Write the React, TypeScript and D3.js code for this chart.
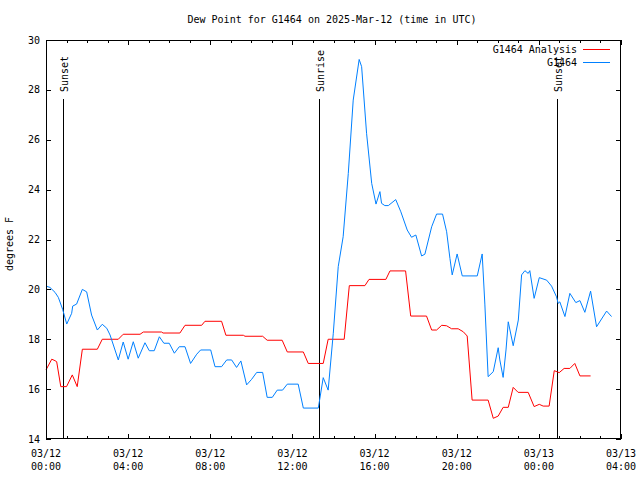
import React from "react";
import * as d3 from "d3";

const TITLE = "Dew Point for G1464 on 2025-Mar-12 (time in UTC)";
const Y_LABEL = "degrees F";
const SERIES_NAMES = ["G1464 Analysis", "G1464"];
const SERIES_COLORS = ["#ff0000", "#0080ff"];

// hours since 2025-03-12 00:00 UTC
const analysisHours = [0.0, 0.28, 0.44, 0.52, 0.72, 1.0, 1.28, 1.52, 1.77, 2.5, 2.74, 3.52, 3.76, 4.58, 4.74, 5.63, 5.7, 6.52, 6.77, 7.58, 7.74, 8.55, 8.76, 9.61, 9.69, 10.55, 10.77, 11.5, 11.75, 12.53, 12.77, 13.5, 13.74, 14.52, 14.77, 15.53, 15.73, 16.55, 16.75, 17.51, 17.76, 18.53, 18.78, 19.02, 19.27, 19.51, 19.75, 20.07, 20.32, 20.51, 20.75, 21.53, 21.78, 22.02, 22.26, 22.51, 22.75, 22.99, 23.48, 23.77, 24.02, 24.21, 24.5, 24.75, 24.99, 25.23, 25.51, 25.75, 26.0, 26.52];
const analysisValues = [16.77, 17.2, 17.14, 17.1, 16.1, 16.1, 16.57, 16.1, 17.6, 17.6, 18.0, 18.0, 18.2, 18.2, 18.29, 18.29, 18.25, 18.25, 18.56, 18.56, 18.72, 18.72, 18.16, 18.16, 18.12, 18.12, 17.96, 17.96, 17.49, 17.49, 17.03, 17.03, 18.0, 18.0, 20.15, 20.15, 20.4, 20.4, 20.74, 20.74, 18.93, 18.93, 18.37, 18.37, 18.56, 18.54, 18.42, 18.42, 18.3, 18.13, 15.56, 15.56, 14.83, 14.92, 15.27, 15.27, 16.07, 15.87, 15.87, 15.3, 15.39, 15.32, 15.32, 16.74, 16.66, 16.83, 16.83, 17.03, 16.53, 16.53];

const obsHours = [0.0, 0.19, 0.44, 0.6, 0.81, 1.01, 1.25, 1.3, 1.49, 1.77, 1.98, 2.22, 2.5, 2.74, 2.96, 3.12, 3.52, 3.76, 4.0, 4.25, 4.49, 4.82, 5.03, 5.27, 5.52, 5.74, 6.0, 6.25, 6.49, 6.77, 7.04, 7.34, 7.53, 8.02, 8.23, 8.55, 8.8, 9.04, 9.28, 9.49, 9.77, 10.01, 10.26, 10.55, 10.77, 11.02, 11.26, 11.52, 11.75, 12.28, 12.53, 13.26, 13.5, 13.74, 13.99, 14.23, 14.47, 14.72, 14.96, 15.25, 15.37, 15.61, 15.86, 16.07, 16.26, 16.34, 16.5, 16.67, 17.03, 17.28, 17.59, 17.8, 18.01, 18.29, 18.45, 18.78, 19.02, 19.31, 19.51, 19.67, 19.78, 20.02, 20.27, 21.0, 21.24, 21.37, 21.53, 21.78, 22.02, 22.1, 22.26, 22.4, 22.51, 22.75, 23.0, 23.16, 23.32, 23.48, 23.56, 23.77, 24.02, 24.38, 24.62, 24.86, 24.94, 25.02, 25.27, 25.51, 25.8, 26.0, 26.24, 26.52, 26.81, 27.3, 27.54];
const obsValues = [20.13, 20.08, 19.88, 19.68, 19.2, 18.61, 19.04, 19.33, 19.41, 20.0, 19.9, 18.97, 18.37, 18.6, 18.44, 18.17, 17.17, 17.89, 17.2, 17.9, 17.24, 17.86, 17.54, 17.54, 18.1, 17.84, 17.84, 17.44, 17.7, 17.7, 17.03, 17.4, 17.57, 17.57, 16.9, 16.9, 17.17, 17.17, 16.87, 17.13, 16.17, 16.39, 16.67, 16.67, 15.67, 15.67, 15.96, 15.96, 16.2, 16.2, 15.24, 15.24, 16.46, 15.96, 18.24, 20.91, 22.11, 24.65, 27.59, 29.22, 28.93, 26.26, 24.25, 23.42, 23.92, 23.45, 23.36, 23.36, 23.6, 23.11, 22.38, 22.09, 22.18, 21.34, 21.41, 22.51, 23.02, 23.02, 22.31, 21.24, 20.58, 21.42, 20.54, 20.54, 21.42, 19.41, 16.5, 16.7, 17.66, 17.17, 16.47, 17.57, 18.7, 17.74, 18.77, 20.58, 20.75, 20.64, 20.75, 19.64, 20.47, 20.37, 20.13, 19.7, 19.44, 19.5, 18.91, 19.84, 19.47, 19.55, 19.08, 19.93, 18.5, 19.13, 18.91];

const eventNames = ["Sunset", "Sunrise", "Sunset"];
const eventHours = [0.84, 13.28, 24.89];

const xTickHours = [0, 4, 8, 12, 16, 20, 24, 28];
const xTickDates = ["03/12", "03/12", "03/12", "03/12", "03/12", "03/12", "03/13", "03/13"];
const xTickTimes = ["00:00", "04:00", "08:00", "12:00", "16:00", "20:00", "00:00", "04:00"];
const yTicks = [14, 16, 18, 20, 22, 24, 26, 28, 30];

const W = 640, H = 480;
const L = 46, R = 621, T = 40, B = 439;
const FONT = "'DejaVu Sans Mono', 'Liberation Mono', monospace";
const FS = 10;

export default function App() {
  const x = d3.scaleLinear().domain([0, 28]).range([L, R]);
  const y = d3.scaleLinear().domain([14, 30]).range([B, T]);
  const line = d3.line<[number, number]>().x(d => x(d[0])).y(d => y(d[1]));
  const aData: [number, number][] = analysisHours.map((h, i) => [h, analysisValues[i]]);
  const oData: [number, number][] = obsHours.map((h, i) => [h, obsValues[i]]);
  const minorX = d3.range(0, 29, 1);

  return (
    <svg width={W} height={H} style={{ position: "absolute", left: 0, top: 0, background: "#fff" }}
      fontFamily={FONT} fontSize={FS}>
      <rect x={0} y={0} width={W} height={H} fill="#fff" />
      <text x={332} y={23} textAnchor="middle" fill="#000">{TITLE}</text>
      {/* ticks */}
      {minorX.map(h => {
        const len = h % 4 === 0 ? 5 : 3;
        const xx = Math.round(x(h)) + 0.5;
        return (
          <g key={"xt" + h} stroke="#000" strokeWidth={1} shapeRendering="crispEdges">
            <line x1={xx} x2={xx} y1={B} y2={B - len} />
            <line x1={xx} x2={xx} y1={T} y2={T + len} />
          </g>
        );
      })}
      {yTicks.map(v => {
        const yy = Math.round(y(v)) + 0.5;
        return (
          <g key={"yt" + v} stroke="#000" strokeWidth={1} shapeRendering="crispEdges">
            <line x1={L} x2={L + 5} y1={yy} y2={yy} />
            <line x1={R} x2={R - 5} y1={yy} y2={yy} />
          </g>
        );
      })}
      {yTicks.map(v => (
        <text key={"yl" + v} x={40} y={y(v) + 3.5} textAnchor="end" fill="#000">{v}</text>
      ))}
      {xTickHours.map((h, i) => (
        <g key={"xl" + i}>
          <text x={x(h)} y={457} textAnchor="middle" fill="#000">{xTickDates[i]}</text>
          <text x={x(h)} y={470} textAnchor="middle" fill="#000">{xTickTimes[i]}</text>
        </g>
      ))}
      <text transform={`translate(13,244) rotate(-90)`} textAnchor="middle" fill="#000">{Y_LABEL}</text>
      {/* events */}
      {eventHours.map((h, i) => {
        const xx = Math.round(x(h)) + 0.5;
        return (
          <g key={"ev" + i}>
            <line x1={xx} x2={xx} y1={99} y2={B} stroke="#000" strokeWidth={1} shapeRendering="crispEdges" />
            <text transform={`translate(${xx + 4},92) rotate(-90)`} textAnchor="start" fill="#000">{eventNames[i]}</text>
          </g>
        );
      })}
      {/* series */}
      <path d={line(aData) || ""} fill="none" stroke={SERIES_COLORS[0]} strokeWidth={1} />
      <path d={line(oData) || ""} fill="none" stroke={SERIES_COLORS[1]} strokeWidth={1} />
      {/* legend */}
      {SERIES_NAMES.map((n, i) => (
        <g key={"lg" + i}>
          <text x={577} y={52.5 + i * 13} textAnchor="end" fill="#000">{n}</text>
          <line x1={583} x2={610} y1={49.5 + i * 13} y2={49.5 + i * 13} stroke={SERIES_COLORS[i]} strokeWidth={1} shapeRendering="crispEdges" />
        </g>
      ))}
      {/* frame */}
      <rect x={L + 0.5} y={T + 0.5} width={R - L - 1} height={B - T - 1} fill="none" stroke="#000" strokeWidth={1} shapeRendering="crispEdges" />
    </svg>
  );
}
